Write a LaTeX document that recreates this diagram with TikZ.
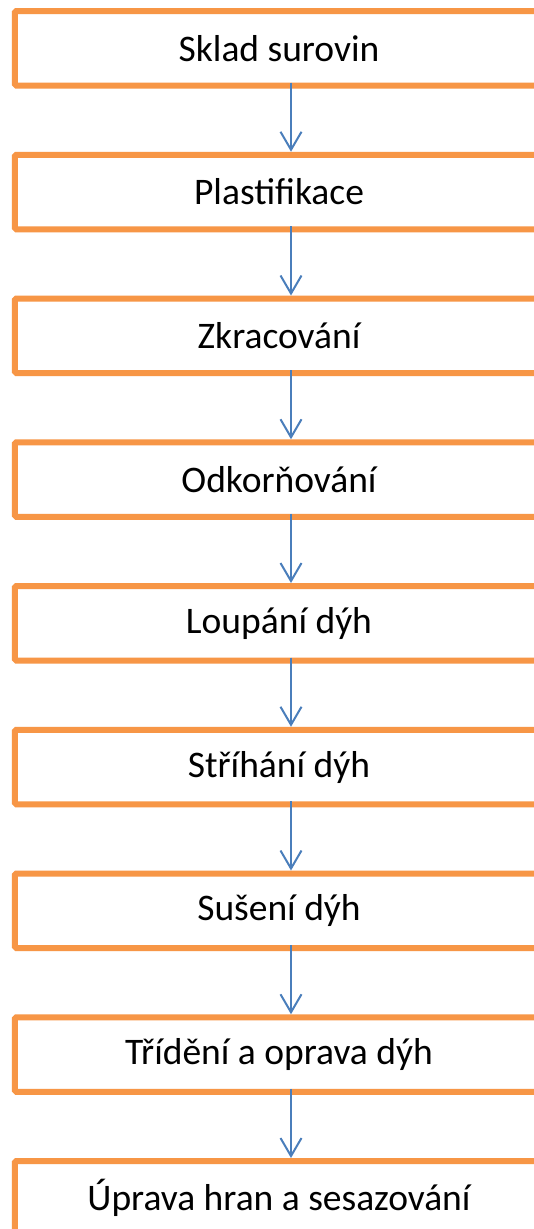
\documentclass[tikz,border=0pt]{standalone}
\usepackage{fontspec}
\setmainfont{Carlito}
\usetikzlibrary{arrows.meta}
\definecolor{boxorange}{HTML}{F79646}
\definecolor{flowblue}{HTML}{4A7EBB}
\tikzset{
  stage/.style={rectangle, minimum width=528pt, minimum height=74.5pt,
    inner sep=0pt, outer sep=0pt,
    font=\fontsize{37.5}{45}\selectfont, text=black, anchor=center},
  frame/.style={draw=boxorange, line width=6pt, rounded corners=1.5pt},
  flow/.style={draw=flowblue, line width=2pt,
    -{Straight Barb[length=18pt, width=21pt, line width=2pt]}}
}
\begin{document}
\begin{tikzpicture}[x=1pt, y=1pt]
  \useasboundingbox (0,0) rectangle (534,-1229);
  \clip (0,0) rectangle (534,-1229);
  \fill[white] (0,0) rectangle (534,-1229);
  % process stages, top to bottom
  \node[stage] (s1) at (279,-48.25)   {Sklad surovin};
  \node[stage] (s2) at (279,-192)     {Plastifikace};
  \node[stage] (s3) at (279,-335.75)  {Zkracování};
  \node[stage] (s4) at (279,-479.5)   {Odkorňování};
  \node[stage] (s5) at (279,-623.25)  {Loupání dýh};
  \node[stage] (s6) at (279,-767)     {Stříhání dýh};
  \node[stage] (s7) at (279,-910.75)  {Sušení dýh};
  \node[stage] (s8) at (279,-1054.5)  {Třídění a oprava dýh};
  \node[stage] (s9) at (279,-1198.25) {Úprava hran a sesazování};
  % frames: closed on the left, running on past the right margin
  \foreach \n in {s1,s2,s3,s4,s5,s6,s7,s8,s9}
    \draw[frame] (\n.north -| 560,0) -- (\n.north -| 14.8,0)
      -- (\n.south -| 14.8,0) -- (\n.south -| 560,0);
  % connectors
  \foreach \a/\b in {s1/s2, s2/s3, s3/s4, s4/s5, s5/s6, s6/s7, s7/s8, s8/s9}
    \draw[flow] ([yshift=3pt]\a.south -| 291,0) -- ([yshift=3pt]\b.north -| 291,0);
\end{tikzpicture}
\end{document}
